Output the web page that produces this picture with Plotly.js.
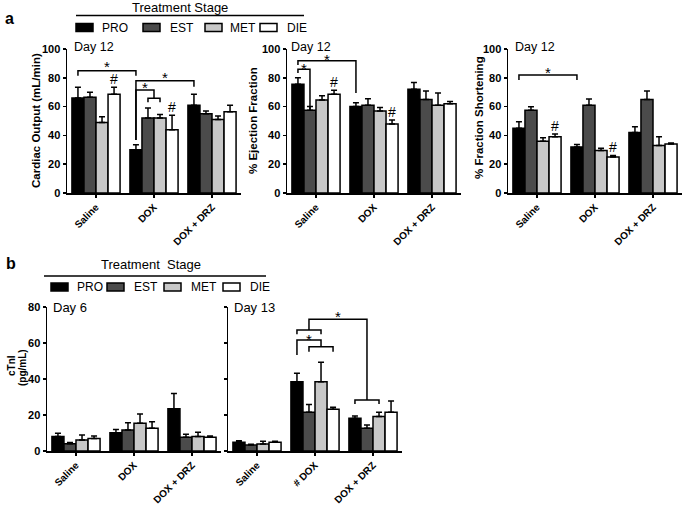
<!DOCTYPE html>
<html><head><meta charset="utf-8">
<script src="https://cdn.plot.ly/plotly-3.0.1.min.js"></script>
<style>html,body{margin:0;padding:0;background:#fff}</style>
</head><body><div id="chart" style="width:685px;height:506px"></div>
<script>
const W = 685, H = 506;
const groupsA = ["Saline", "DOX", "DOX + DRZ"];
const groupsDay6 = ["Saline", "DOX", "DOX + DRZ"];
const groupsDay13 = ["Saline", "# DOX", "DOX + DRZ"];
const stages = ["PRO", "EST", "MET", "DIE"];
const stageColors = ["#000000", "#4b4b4b", "#c8c8c8", "#ffffff"];

// rows: PRO, EST, MET, DIE ; columns: Saline, DOX, DOX + DRZ
const coMean = [[66, 30, 61], [66.5, 52, 55], [49, 52, 51], [68.5, 44, 56.5]];
const coErr  = [[7.5, 3.5, 7.5], [3.5, 7, 2], [4, 2.5, 2.5], [5, 10, 4.5]];
const efMean = [[75.5, 60, 72], [57.5, 61, 65], [64.5, 57, 61], [68.5, 48, 62]];
const efErr  = [[4.5, 2.7, 4.7], [2.5, 4.5, 5.8], [3, 2.3, 8.5], [2.8, 2.7, 1.6]];
const fsMean = [[45, 32, 42], [57.5, 61, 65], [36, 29.5, 33], [39, 25, 34]];
const fsErr  = [[4.5, 1.6, 4], [2.4, 4.3, 5.8], [2.4, 1.6, 6], [2, 1.1, 0.8]];
const tn6Mean = [[8, 10.2, 23.5], [4, 11.7, 7.6], [6.1, 15.4, 8], [7, 12.6, 7.6]];
const tn6Err  = [[1.8, 1.8, 8.5], [0.7, 4, 1.7], [2.8, 5.2, 2.4], [1.3, 3.7, 0.7]];
const tn13Mean = [[4.8, 38.5, 18.2], [3.3, 21.5, 12.6], [3.9, 38.5, 19.1], [4.8, 23.2, 21.5]];
const tn13Err  = [[0.9, 4.7, 1.2], [0.4, 4.4, 1.8], [1.5, 10.8, 2.4], [0.6, 1.1, 6.3]];

// significance brackets: [groupA, stageA, groupB, stageB, yTop, yLeftEnd, yRightEnd]
const coBrackets = [[0,0,1,0,84.9,81.5,81.5],[1,0,2,0,78,36.8,73.8],[1,0,1,1.5,71.5,36.8,65.8],[1,1,1,2,65.8,63,63]];
const coStars = [[0,0,1,0,90.3],[1,0,2,0,83.3],[1,0,1,1.5,75.7]];
const coHashes = [[0,3],[1,3]];
const efBrackets = [[0,0,1,0,91.9,88.9,69.4],[0,0,0,1,85.9,83.3,57.6]];
const efStars = [[0,0,1,0,95.8],[0,0,0,1,88.9]];
const efHashes = [[0,3],[1,3]];
const fsBrackets = [[0,0,1,0,81.9,78.5,78.5]];
const fsStars = [[0,0,1,0,86.8]];
const fsHashes = [[0,3],[1,3]];
const tn13Brackets = [[1,1,2,1,73.2,67.2,28.3],[2,0,2,2,28.3,26.1,26.1],[1,0,1,2,67.2,64.8,64.8],[1,0,1,2,61.7,53.3,57.9],[1,1,1,3,57.9,55.2,55.2]];
const tn13Stars = [[1,1,2,1,76.8],[1,0,1,2,64.4]];

const BARGAP = 0.17;
const FONT = "Arial, 'Liberation Sans', sans-serif";
function barX(g, s) { return g + (-0.5 + (s + 0.5) / 4) * (1 - BARGAP); }
function px(x) { return x / W; }
function py(y) { return 1 - y / H; }

const data = [];
const shapes = [];
const annotations = [];

function addPanel(idx, means, errs, brackets, stars, hashes) {
  const xa = idx === 1 ? 'x' : 'x' + idx;
  const ya = idx === 1 ? 'y' : 'y' + idx;
  stages.forEach((st, s) => {
    data.push({
      type: 'bar', x: [0, 1, 2], y: means[s], name: st, xaxis: xa, yaxis: ya,
      showlegend: false, hoverinfo: 'skip',
      marker: {color: stageColors[s], line: {color: '#000', width: 1.5}},
      error_y: {type: 'data', symmetric: false, array: errs[s], arrayminus: [0, 0, 0],
                color: '#000', thickness: 1.5, width: 3}
    });
  });
  (brackets || []).forEach(b => {
    const x0 = barX(b[0], b[1]), x1 = barX(b[2], b[3]);
    shapes.push({type: 'path', xref: xa, yref: ya,
      path: `M ${x0},${b[5]} L ${x0},${b[4]} L ${x1},${b[4]} L ${x1},${b[6]}`,
      line: {color: '#000', width: 1.5}});
  });
  (stars || []).forEach(s => {
    const x = (barX(s[0], s[1]) + barX(s[2], s[3])) / 2;
    annotations.push({xref: xa, yref: ya, x: x, y: s[4], text: '*', showarrow: false,
      yanchor: 'middle', yshift: -4, font: {family: FONT, size: 15, color: '#000'}});
  });
  (hashes || []).forEach(h => {
    annotations.push({xref: xa, yref: ya, x: barX(h[0], h[1]), y: means[h[1]][h[0]] + errs[h[1]][h[0]],
      text: '#', showarrow: false, yanchor: 'bottom', yshift: -2, font: {family: FONT, size: 14, color: '#000'}});
  });
}

addPanel(1, coMean, coErr, coBrackets, coStars, coHashes);
addPanel(2, efMean, efErr, efBrackets, efStars, efHashes);
addPanel(3, fsMean, fsErr, fsBrackets, fsStars, fsHashes);
addPanel(4, tn6Mean, tn6Err, [], [], []);
addPanel(5, tn13Mean, tn13Err, tn13Brackets, tn13Stars, []);

function xAxis(l, r, labels) {
  return {domain: [px(l), px(r)], range: [-0.5, 2.5], showline: true, linecolor: '#000', linewidth: 1.5,
    ticks: 'outside', ticklen: 3, tickwidth: 1.5, tickcolor: '#000', tickvals: [0, 1, 2], ticktext: labels,
    tickangle: -45, tickfont: {family: FONT, size: 10, weight: 700, color: '#000'},
    showgrid: false, zeroline: false, fixedrange: true};
}
function yAxis(t, b, max, anchor, showLabels) {
  return {domain: [py(b), py(t)], range: [0, max], dtick: 20, anchor: anchor, showline: true, linecolor: '#000',
    linewidth: 1.5, ticks: 'outside', ticklen: 3, tickwidth: 1.5, tickcolor: '#000', showticklabels: showLabels,
    tickfont: {family: FONT, size: 11, weight: 700, color: '#000'}, showgrid: false, zeroline: false, fixedrange: true};
}

const layout = {
  width: W, height: H, margin: {l: 0, r: 0, t: 0, b: 0},
  paper_bgcolor: '#fff', plot_bgcolor: 'rgba(0,0,0,0)',
  barmode: 'group', bargap: BARGAP, bargroupgap: 0,
  font: {family: FONT, color: '#000'},
  xaxis: Object.assign(xAxis(67, 241, groupsA), {anchor: 'y'}),
  yaxis: yAxis(49, 193, 100, 'x', true),
  xaxis2: Object.assign(xAxis(287, 461, groupsA), {anchor: 'y2'}),
  yaxis2: yAxis(49, 193, 100, 'x2', true),
  xaxis3: Object.assign(xAxis(508, 682, groupsA), {anchor: 'y3'}),
  yaxis3: yAxis(49, 193, 100, 'x3', true),
  xaxis4: Object.assign(xAxis(47, 221, groupsDay6), {anchor: 'y4'}),
  yaxis4: yAxis(307, 451, 80, 'x4', true),
  xaxis5: Object.assign(xAxis(228, 402, groupsDay13), {anchor: 'y5'}),
  yaxis5: yAxis(307, 451, 80, 'x5', false),
  shapes: shapes, annotations: annotations
};

function txt(x, y, text, size, opts) {
  annotations.push(Object.assign({xref: 'paper', yref: 'paper', x: px(x), y: py(y), text: text, showarrow: false,
    xanchor: 'left', yanchor: 'middle', font: {family: FONT, size: size, color: '#000'}}, opts || {}));
}

// panel letters
txt(9, 18, '<b>a</b>', 16, {xanchor: 'center'});
txt(11, 263, '<b>b</b>', 16, {xanchor: 'center'});

// legends
function legend(lineL, lineR, lineY, titleX, titleY, title, rowY, swatchX, textX) {
  txt(titleX, titleY, title, 13, {xanchor: 'center'});
  shapes.push({type: 'line', xref: 'paper', yref: 'paper', x0: px(lineL), x1: px(lineR), y0: py(lineY), y1: py(lineY),
    line: {color: '#000', width: 1.5}});
  stages.forEach((st, i) => {
    shapes.push({type: 'rect', xref: 'paper', yref: 'paper', x0: px(swatchX[i]), x1: px(swatchX[i] + 17),
      y0: py(rowY + 4), y1: py(rowY - 4), fillcolor: stageColors[i], line: {color: '#000', width: 1.5}});
    txt(textX[i], rowY, st, 12);
  });
}
legend(76, 304, 15.5, 180, 7, 'Treatment Stage', 27.5, [76, 143, 205, 260], [100, 168, 228, 285]);
legend(44, 266, 276, 151, 264, 'Treatment\u00a0 Stage', 287, [51, 107, 164, 223], [75, 132, 189, 248]);

// day labels
txt(72, 47, 'Day 12', 12.5);
txt(289, 47, 'Day 12', 12.5);
txt(513, 47, 'Day 12', 12.5);
txt(51, 307, 'Day 6', 13);
txt(232, 307, 'Day 13', 13);

// y-axis titles
const yt = {textangle: -90, xanchor: 'center'};
txt(36, 121, '<b>Cardiac Output (mL/min)</b>', 11.5, yt);
txt(253, 121, '<b>% Ejection Fraction</b>', 11.5, yt);
txt(479, 118, '<b>% Fraction Shortening</b>', 11.5, yt);
txt(11, 366, '<b>cTnI</b>', 10, yt);
txt(22, 368, '<b>(pg/mL)</b>', 10, yt);

Plotly.newPlot('chart', data, layout, {displayModeBar: false, staticPlot: true});
</script></body></html>
